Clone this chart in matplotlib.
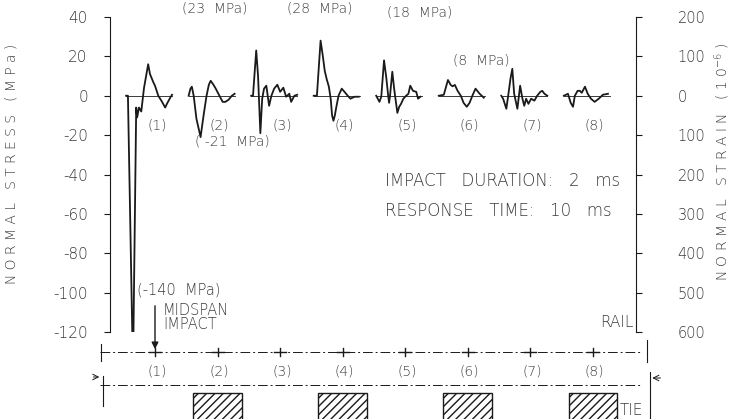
import matplotlib.pyplot as plt
from matplotlib.patches import Rectangle

# Strain-gauge records, time after impact (ms) vs normal stress (MPa)
t1 = [0, 0.4, 1.5, 2.2, 2.4, 2.8, 3.3, 3.9, 4.8, 5.2, 5.9, 6.3, 7.0, 7.8, 8.5, 8.9, 9.6, 10.0]
s1 = [0, 0, -140, -6, -11, -6, -8, 4, 16, 11, 7, 5, 0, -3, -6, -4, -1, 0.5]
t2 = [0, 0.4, 0.7, 1.1, 1.7, 2.6, 3.3, 3.9, 4.4, 4.8, 5.4, 5.9, 6.7, 7.4, 8.0, 8.7, 9.4, 10.0]
s2 = [0, 3.6, 4.6, 0, -11.7, -21, -9.2, 0, 5.6, 7.6, 5.6, 3.6, 0, -3.1, -3.1, -2, 0, 1]
t3 = [0, 0.4, 1.1, 1.5, 2.0, 2.4, 2.8, 3.3, 3.9, 4.4, 5.0, 5.7, 6.3, 7.0, 7.6, 8.3, 8.7, 9.4, 10.0]
s3 = [0, 0, 23, 10, -19, -1.5, 3.6, 5.1, -5.1, 0, 3.6, 5.6, 2, 4.1, -0.5, 1, -3.1, 0, 0.5]
t4 = [0, 0.7, 1.5, 2.0, 2.4, 2.8, 3.3, 3.7, 4.0, 4.3, 4.6, 4.9, 5.4, 6.1, 6.7, 7.4, 8.0, 8.9, 9.8]
s4 = [0, 0, 28, 20, 12.7, 8.7, 4.6, -1.5, -10, -12.7, -10, -6, 0, 3.6, 2, 0, -1.5, -0.5, -0.5]
t5 = [0, 0.7, 1.1, 1.7, 2.2, 2.6, 2.8, 3.0, 3.5, 3.9, 4.1, 4.6, 5.0, 5.4, 5.9, 6.5, 7.0, 7.4, 8.0, 8.7, 9.1, 9.6]
s5 = [0, -3.1, -0.5, 18, 9, 0, -3.6, 0, 12.2, 3.6, 0, -8.7, -5.6, -4.1, -1.5, 0, 1, 5.1, 2.5, 2, -1.5, -0.5]
t6 = [0, 1.1, 2.0, 2.6, 3.0, 3.5, 4.1, 4.8, 5.4, 6.1, 6.7, 7.4, 8.0, 8.9, 9.8]
s6 = [0, 0.5, 8, 5.5, 4.8, 5.5, 2.5, 0, -3.6, -5.6, -3.6, 0.5, 3.6, 1, -1]
t7 = [0, 0.4, 1.1, 1.5, 2.0, 2.4, 2.8, 3.5, 4.1, 4.6, 5.0, 5.4, 5.9, 6.5, 7.2, 7.8, 8.5, 8.9, 9.4, 10.0]
s7 = [0, -1.5, -6.6, 0, 8.7, 13.7, 1, -6.6, 5.1, -1.5, -5.1, -1.5, -4.1, -1.5, -2.5, 0, 2, 2.5, 1, 0]
t8 = [0, 0.9, 1.5, 2.0, 2.4, 3.0, 3.5, 3.9, 4.6, 5.2, 5.9, 6.7, 7.6, 8.5, 9.6]
s8 = [0, 1, -3.6, -5.6, 0, 2.5, 2.5, 1.5, 4.6, 1, -1.5, -3.1, -1.5, 0.5, 1]

times = [t1, t2, t3, t4, t5, t6, t7, t8]
stresses = [s1, s2, s3, s4, s5, s6, s7, s8]
gauges = ['(1)', '(2)', '(3)', '(4)', '(5)', '(6)', '(7)', '(8)']
tie_gauges = [1, 3, 5, 7]   # gauges sitting over a tie

stress_ticks = [40, 20, 0, -20, -40, -60, -80, -100, -120]
strain_ticks = [200, 100, 0, -100, -200, -300, -400, -500, -600]

GAP = 13.6    # ms of plot width between neighbouring gauges
LEAD = 6.3    # each record starts this far left of its gauge
INK = '#1a1a1a'
TXT = '#3a3a3a'

plt.rcParams['font.family'] = 'DejaVu Sans'
plt.rcParams['font.weight'] = 'light'

fig = plt.figure(figsize=(7.35, 4.19), dpi=100)
ax = fig.add_axes([110 / 735, 1 - 332 / 419, 526 / 735, 315 / 419])
ax.set_xlim(-9.8, 104.6)
ax.set_ylim(-120, 40)

for i, (t, s) in enumerate(zip(times, stresses)):
    x0 = i * GAP - LEAD
    ax.plot([x0, x0 + 10], [0, 0], color=INK, lw=0.6)
    ax.plot([x0 + v for v in t], s, color=INK, lw=1.3)
    ax.text(i * GAP + 0.4, -15, gauges[i], fontsize=10, color=TXT, ha='center', va='center')

ax.set_xticks([])
for side in ['top', 'bottom', 'right']:
    ax.spines[side].set_visible(False)
ax.spines['left'].set_color(INK)
ax.set_yticks(stress_ticks)
ax.set_yticklabels([str(v) for v in stress_ticks])
ax.tick_params(axis='y', direction='out', length=4, color=INK, labelsize=11,
               labelcolor=TXT, pad=12)

axr = ax.twinx()
axr.set_ylim(-600, 200)
for side in ['top', 'bottom', 'left']:
    axr.spines[side].set_visible(False)
axr.spines['right'].set_color(INK)
axr.set_yticks(strain_ticks)
axr.set_yticklabels([str(abs(v)) for v in strain_ticks])
axr.tick_params(axis='y', direction='out', length=4, color=INK, labelsize=10.5,
                labelcolor=TXT, pad=26)

fig.text(12 / 735, 1 - 164 / 419, 'N O R M A L   S T R E S S   ( M P a )', rotation=90,
         fontsize=10, color=TXT, ha='center', va='center')
fig.text(722 / 735, 1 - 162 / 419, 'N O R M A L   S T R A I N   ( 1 0$^{-6}$ )', rotation=90,
         fontsize=10, color=TXT, ha='center', va='center')

# peak values
ax.text(20.2, 44.5, '(23  MPa)', fontsize=10, color=TXT, ha='right', va='center', clip_on=False)
ax.text(35.9, 44.5, '(28  MPa)', fontsize=10, color=TXT, ha='center', va='center', clip_on=False)
ax.text(50.4, 42.2, '(18  MPa)', fontsize=10, color=TXT, ha='left', va='center')
ax.text(64.8, 17.8, '(8  MPa)', fontsize=10, color=TXT, ha='left', va='center')
ax.text(8.7, -23.4, '( -21  MPa)', fontsize=10, color=TXT, ha='left', va='center')
ax.text(-3.9, -98.7, '(-140  MPa)', fontsize=10.5, color=TXT, ha='left', va='center')

ax.text(50, -43.3, 'IMPACT   DURATION:   2   ms', fontsize=12, color=TXT, ha='left', va='center')
ax.text(50, -58.5, 'RESPONSE   TIME:   10   ms', fontsize=12, color=TXT, ha='left', va='center')
ax.text(1.7, -112.7, 'MIDSPAN\nIMPACT', fontsize=10.5, color=TXT, ha='left', va='center',
        linespacing=0.95, clip_on=False)

# track layout beneath the records: rail, gauges, ties
axt = fig.add_axes([0, 0, 1, 84 / 419])
axt.set_xlim(-155 / 4.6, 580 / 4.6)
axt.set_ylim(419, 335)
axt.axis('off')

axt.plot([-12, 105.4], [352, 352], color=INK, lw=0.7, ls=(0, (10, 3, 2, 3)))
axt.plot([-12, 105.4], [385, 385], color=INK, lw=0.7, ls=(0, (10, 3, 2, 3)))
for i, g in enumerate(gauges):
    x = i * GAP
    axt.plot([x - 1.3, x + 1.3], [352, 352], color=INK, lw=1.0)
    axt.plot([x, x], [348, 356], color=INK, lw=1.0)
    axt.text(x + 0.4, 371, g, fontsize=10, color=TXT, ha='center', va='center')
for i in tie_gauges:
    axt.add_patch(Rectangle((i * GAP - 5.3, 393), 10.6, 30, facecolor='white',
                            edgecolor=INK, lw=1.0, hatch='////', clip_on=False))

# end marks
axt.plot([-11.8, -11.8], [344, 361], color=INK, lw=0.8)
axt.plot([-11.3, -11.3], [376, 406], color=INK, lw=0.8)
axt.annotate('', xy=(-11.5, 377), xytext=(-14, 377),
             arrowprops=dict(arrowstyle='->', color=INK, lw=0.7))
axt.plot([107, 107], [340, 362], color=INK, lw=0.8)
axt.plot([107.5, 107.5], [372, 419], color=INK, lw=0.8)
axt.annotate('', xy=(107.5, 378), xytext=(110.5, 378),
             arrowprops=dict(arrowstyle='->', color=INK, lw=0.7))

axt.text(104, 322, 'RAIL', fontsize=11, color=TXT, ha='right', va='center', clip_on=False)
axt.text(101, 410, 'TIE', fontsize=11, color=TXT, ha='left', va='center')

# impact point at gauge 1
axt.annotate('', xy=(0, 352), xytext=(0, 303),
             arrowprops=dict(arrowstyle='-|>', color=INK, lw=1.0, mutation_scale=10),
             annotation_clip=False)

fig.savefig('out.png', dpi=100)
